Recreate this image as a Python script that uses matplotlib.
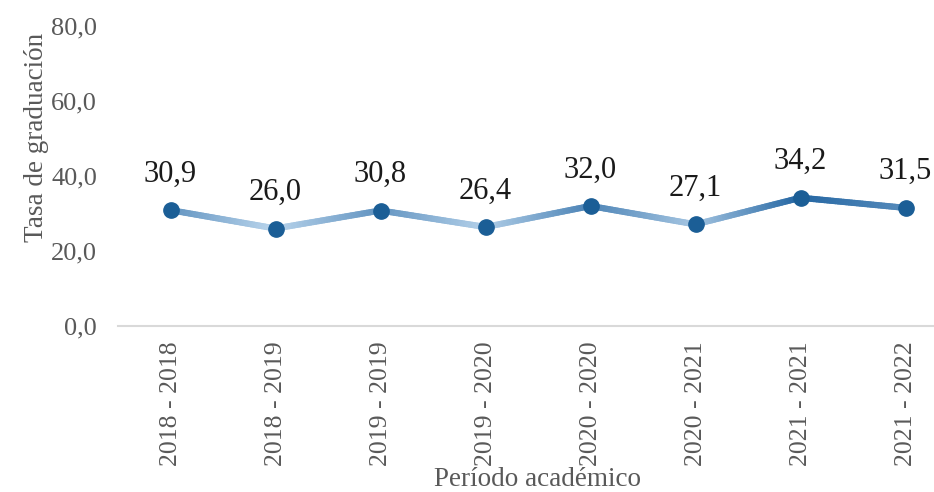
import numpy as np
import matplotlib
matplotlib.use("Agg")
import matplotlib.pyplot as plt
from matplotlib.collections import LineCollection
from matplotlib.colors import LinearSegmentedColormap

# data
periodos = ["2018 - 2018", "2018 - 2019", "2019 - 2019", "2019 - 2020",
            "2020 - 2020", "2020 - 2021", "2021 - 2021", "2021 - 2022"]
tasa = [30.9, 26.0, 30.8, 26.4, 32.0, 27.1, 34.2, 31.5]
y_ticks = [0, 20, 40, 60, 80]

plt.rcParams["font.family"] = ["Liberation Serif", "DejaVu Serif"]

fig = plt.figure(figsize=(9.34, 4.92), dpi=100)
ax = fig.add_axes([118 / 934, 166 / 492, 816 / 934, 300 / 492])

x = np.arange(len(tasa))

# line with a light-to-dark gradient following the height
cmap = LinearSegmentedColormap.from_list("blues", ["#c2dbf0", "#1f62a0"])
xs, ys = [], []
for i in range(len(tasa) - 1):
    t = np.linspace(0, 1, 40)
    xs.extend(x[i] + t * (x[i + 1] - x[i]))
    ys.extend(tasa[i] + t * (tasa[i + 1] - tasa[i]))
xs = np.array(xs)
ys = np.array(ys)
pts = np.array([xs, ys]).T.reshape(-1, 1, 2)
segs = np.concatenate([pts[:-1], pts[1:]], axis=1)
mid = (ys[:-1] + ys[1:]) / 2
lc = LineCollection(segs, cmap=cmap, norm=plt.Normalize(25.5, 34.5),
                    linewidths=4.5, capstyle="round")
lc.set_array(mid)
ax.add_collection(lc)

ax.plot(x, tasa, "o", color="#1b5e96", markersize=11, zorder=3)

for xi, v in zip(x, tasa):
    ax.annotate(f"{v:.1f}".replace(".", ","), (xi, v), xytext=(0, 26),
                textcoords="offset points", ha="center", va="center",
                fontsize=22, color="#1a1a1a")

ax.set_xlim(-0.5, -0.5 + 816 / 105)
ax.set_ylim(0, 80)
ax.set_yticks(y_ticks)
ax.set_yticklabels([f"{t:.1f}".replace(".", ",") for t in y_ticks])
ax.set_xticks(x)
ax.set_xticklabels(periodos, rotation=90)

for s in ["top", "right", "left"]:
    ax.spines[s].set_visible(False)
ax.spines["bottom"].set_color("#d9d9d9")
ax.spines["bottom"].set_linewidth(1.5)
ax.tick_params(axis="x", length=0, pad=11, labelsize=18.5, labelcolor="#595959")
ax.tick_params(axis="y", length=0, pad=15, labelsize=19, labelcolor="#595959")

fig.text(37 / 934, 1 - 137 / 492, "Tasa de graduación", rotation=90,
         ha="center", va="center", fontsize=19.5, color="#595959")
fig.text(537 / 934, 1 - 480 / 492, "Período académico",
         ha="center", va="center", fontsize=19.5, color="#595959")

fig.savefig("out.png", dpi=100)
